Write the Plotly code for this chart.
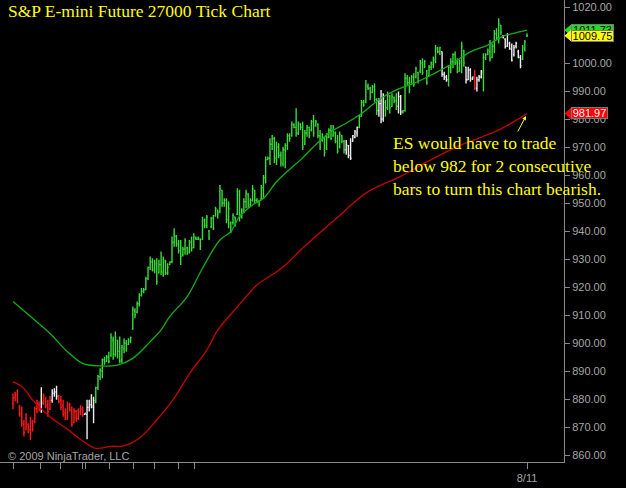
import plotly.graph_objects as go

# ---------------- data ----------------
opens = [
    878.5, 880.5, 881.5, 877.0, 875.0, 871.0, 869.0, 871.0, 869.0, 871.5,
    872.0, 876.5, 878.0, 877.0, 879.0, 880.0, 878.0, 876.5, 879.5, 882.0,
    882.5, 881.0, 879.5, 877.5, 875.0, 873.0, 878.0, 876.0, 871.5, 875.5,
    873.0, 875.5, 876.5, 874.5, 874.5, 877.0, 878.0, 877.0, 879.0, 884.0,
    888.0, 890.0, 894.0, 893.5, 895.0, 895.5, 901.0, 896.0, 901.0, 897.0,
    894.0, 898.0, 900.0, 899.5, 900.5,
    905, 911.5, 911, 914, 917, 918.5, 919, 923, 927, 929,
    926, 928, 925, 928, 925, 929, 925, 928, 929, 936,
    938, 935.5, 933, 931.5, 933.5, 934, 932.5, 936, 934, 937.5,
    937, 937, 937, 943.5, 942, 940, 941.5, 944.5, 945.5, 947.5,
    947, 954.5, 950, 951, 944, 943, 943, 945, 946, 953,
    945, 947, 950.5, 953, 949.5, 951, 954.5, 951, 950.5, 951.5,
    955.5, 959, 965.5, 966, 971, 973, 966, 970, 967, 964,
    969, 970.5, 974, 974, 978, 977, 975, 978,
    977, 971, 975, 977, 976, 979, 977.5, 978, 974, 972.5,
    973, 969.5, 973.5, 976, 974, 975, 972, 970, 974, 972,
    969, 970.5, 967, 972, 973.5, 975, 977, 981, 986, 986,
    991.5, 991, 989.5, 991.5, 987, 983, 985.5, 980, 986, 984,
    988, 984.5, 987.5, 986.5, 984.5, 988, 982.5, 983, 994.5, 993,
    993, 995, 995, 996.5,
    997, 1000, 998.5, 997, 995.5, 998.5, 999.5, 1001, 1005, 1004,
    1004, 996, 995, 994, 998.5, 1000.5, 1003, 1000, 997, 1000,
    1004.5, 998.5, 994, 997.5, 994.5, 994.5, 991, 994, 995, 996.5,
    1002, 1003, 1004, 1002, 1006, 1010.5, 1009, 1013.5, 1009.5, 1008.5,
    1006, 1007, 1005, 1003, 1006, 1004, 1002, 1001.5, 1005, 1009.5,
]
highs = [
    882.0, 882.6, 883.5, 877.9, 877.3, 872.5, 874.9, 871.3, 873.7, 872.5,
    877.3, 879.7, 879.1, 884.2, 882.0, 880.8, 879.7, 881.1, 883.5, 883.8,
    884.7, 881.4, 881.1, 879.7, 876.7, 879.1, 878.7, 877.3, 876.7, 876.1,
    876.7, 877.9, 877.3, 874.9, 879.7, 879.7, 881.7, 880.8, 884.4, 888.6,
    891.0, 894.5, 895.1, 895.7, 896.9, 903.5, 902.3, 904.1, 901.1, 902.3,
    899.3, 901.7, 901.1, 901.7, 902.3,
    913.0, 912.4, 914.8, 917.8, 919.6, 919.6, 923.7, 927.3, 930.9, 930.3,
    929.7, 930.3, 929.7, 932.7, 930.9, 929.7, 928.5, 929.1, 938.0, 941.0,
    938.6, 936.8, 936.8, 934.4, 937.4, 934.4, 936.8, 938.0, 939.2, 938.0,
    938.0, 937.4, 945.1, 944.5, 945.7, 940.4, 945.1, 945.7, 948.7, 947.5,
    956.4, 954.7, 951.7, 951.7, 950.5, 943.4, 946.3, 945.1, 955.3, 954.7,
    948.1, 951.7, 954.7, 953.5, 951.7, 956.4, 954.7, 951.7, 951.1, 956.4,
    960.0, 966.6, 966.6, 973.1, 974.3, 973.7, 971.9, 971.3, 968.4, 970.1,
    971.3, 974.9, 974.9, 979.1, 978.5, 983.8, 979.1, 978.5,
    979.0, 976.1, 977.9, 977.3, 979.6, 981.4, 979.6, 978.5, 976.1, 974.9,
    973.7, 974.9, 976.7, 977.9, 977.9, 975.5, 974.3, 975.5, 974.3, 972.5,
    972.5, 970.7, 973.1, 974.3, 976.1, 977.3, 981.4, 986.8, 986.8, 993.9,
    992.7, 991.5, 992.1, 992.7, 987.4, 987.4, 990.4, 989.2, 986.8, 989.8,
    988.6, 989.2, 988.0, 989.2, 989.8, 988.6, 983.2, 996.3, 995.7, 995.1,
    995.7, 996.3, 998.7, 996.9,
    1001.1, 1001.7, 1001.1, 997.5, 999.3, 1000.5, 1002.3, 1006.4, 1005.8, 1005.8,
    1004.1, 996.9, 995.7, 999.3, 1001.7, 1003.5, 1004.1, 1001.7, 1001.1, 1007.6,
    1004.7, 998.7, 998.7, 998.1, 995.1, 997.5, 995.1, 995.7, 997.5, 1003.5,
    1003.5, 1005.2, 1008.2, 1007.0, 1011.8, 1012.4, 1016.0, 1013.6, 1010.0, 1008.8,
    1010.6, 1007.6, 1007.0, 1006.4, 1007.6, 1004.7, 1002.9, 1006.4, 1008.2, 1010.6,
]
lows = [
    876.3, 879.1, 878.5, 873.7, 870.1, 866.6, 868.9, 867.8, 865.4, 868.4,
    871.3, 874.9, 875.5, 875.1, 877.9, 876.7, 873.7, 876.1, 878.7, 880.8,
    879.7, 878.5, 876.1, 873.7, 872.5, 872.5, 875.5, 870.1, 871.3, 871.9,
    872.5, 874.3, 873.7, 874.3, 865.6, 875.5, 876.7, 871.3, 878.5, 883.2,
    886.8, 887.4, 892.2, 893.3, 892.8, 895.1, 894.0, 895.1, 894.5, 892.8,
    892.8, 896.3, 896.9, 899.3, 899.9,
    904.7, 908.8, 910.6, 913.0, 916.6, 917.8, 919.0, 922.5, 926.1, 925.5,
    924.9, 920.8, 924.9, 924.3, 923.7, 924.3, 924.3, 927.9, 928.5, 934.4,
    934.4, 932.0, 927.9, 930.9, 931.5, 931.5, 932.0, 932.7, 933.8, 936.8,
    936.8, 933.2, 936.8, 941.0, 941.0, 936.8, 941.0, 940.4, 945.1, 944.5,
    946.3, 948.7, 948.7, 942.8, 941.0, 939.2, 942.2, 941.6, 945.7, 943.4,
    944.5, 946.3, 948.1, 948.1, 948.7, 950.5, 949.9, 949.9, 948.7, 951.1,
    951.7, 957.0, 965.4, 963.6, 968.9, 964.2, 963.6, 966.0, 963.0, 963.0,
    962.4, 968.9, 971.9, 973.7, 976.7, 973.7, 974.3, 976.1,
    968.9, 970.7, 973.7, 973.1, 975.5, 973.7, 977.3, 973.1, 968.9, 971.9,
    966.6, 968.9, 973.1, 972.5, 973.7, 971.3, 967.7, 969.5, 971.3, 967.7,
    967.2, 966.0, 965.4, 971.9, 973.1, 973.7, 976.7, 980.8, 984.4, 985.6,
    990.4, 986.8, 989.2, 986.2, 981.4, 980.8, 978.5, 979.0, 980.8, 983.2,
    982.0, 984.4, 985.6, 983.2, 982.0, 981.4, 982.0, 982.6, 992.1, 989.2,
    992.7, 991.5, 994.5, 992.7,
    996.3, 995.7, 998.1, 992.2, 995.1, 997.5, 998.1, 999.9, 1003.5, 1002.9,
    995.1, 993.9, 993.3, 991.6, 996.3, 998.1, 999.3, 996.3, 996.9, 996.3,
    998.7, 992.7, 993.9, 993.3, 993.9, 990.4, 989.8, 993.3, 994.5, 989.8,
    1001.1, 1002.9, 1000.5, 1001.7, 1003.5, 1008.2, 1007.0, 1010.0, 1008.8, 1005.2,
    1005.8, 1004.7, 1000.5, 1002.3, 1005.2, 1001.7, 998.1, 1001.1, 1004.1, 1009.4,
]
closes = [
    880.5, 881.5, 879.0, 874.5, 871.5, 868.0, 873.0, 869.0, 872.0, 869.5,
    876.5, 878.5, 877.0, 878.5, 881.0, 877.5, 875.5, 879.5, 882.0, 882.5,
    881.0, 879.0, 877.0, 874.5, 873.5, 878.0, 876.0, 871.0, 875.5, 873.0,
    875.5, 876.5, 874.5, 874.9, 877.0, 878.0, 877.5, 879.5, 884.0, 888.0,
    890.5, 894.0, 893.0, 895.0, 893.5, 902.0, 896.0, 902.0, 897.0, 893.5,
    898.5, 900.0, 898.0, 901.0, 902.0,
    912, 910, 914, 917, 918.5, 919, 923, 927, 929, 926.5,
    928.5, 922, 928, 925.5, 929.5, 925, 927, 929, 936, 938.5,
    935, 933, 931, 933.5, 936.5, 932, 936, 934, 938, 937,
    937.5, 934.5, 944, 942, 945, 937.5, 944.5, 941, 948, 946.5,
    955, 950, 951, 944, 948, 940, 945.5, 943, 954, 945,
    947.5, 950.5, 953.5, 949, 951, 955, 951, 950.5, 949.5, 955.5,
    959, 965.5, 966, 971, 973, 966, 970, 967, 964.5, 969,
    970.5, 974, 973, 978, 977, 975, 978.5, 977,
    970, 975, 977, 974, 979, 975, 979, 974, 970, 974.5,
    968, 973.5, 976, 973, 977, 972, 968.5, 974.5, 972, 969,
    971, 967, 966, 974, 975.5, 977, 981, 986, 985, 992,
    991, 988, 991.5, 987, 983, 985.5, 980, 987.5, 984, 988.5,
    984, 988, 986.5, 984.5, 988, 982.5, 983, 994.5, 993, 990.5,
    995, 992.5, 998, 993.5,
    1000, 996.5, 1000.5, 993, 998.5, 1000, 1001.5, 1005.5, 1004, 1005.5,
    996, 995, 994, 998.5, 1000.5, 1003, 1000, 997, 1000.5, 1006,
    1000, 994, 997.5, 994, 995, 991, 994, 995, 997, 1002,
    1003, 1004.5, 1001.5, 1006, 1010.5, 1009, 1014, 1011, 1009, 1006,
    1010, 1005, 1001, 1005.5, 1007, 1002, 999, 1005.5, 1007.5, 1009.75,
]
# bar colour state, as runs of (state, number of bars)
color_runs = [("r", 13), ("w", 1), ("r", 4), ("w", 3), ("r", 12), ("w", 5),
              ("g", 115), ("w", 6), ("g", 9), ("w", 3), ("g", 6), ("w", 2),
              ("g", 18), ("w", 3), ("g", 8), ("w", 4), ("r", 1), ("w", 3),
              ("g", 9), ("w", 9), ("g", 3)]

# moving averages (bar index, value)
green_ma_idx = [0, 9, 17, 25, 32, 40, 48, 55, 63, 68, 72, 80, 87, 95, 100, 104, 110,
                115, 121, 127, 132, 138, 146, 153, 159, 169, 176, 184, 192, 195,
                202, 210, 218, 225, 230, 236]
green_ma_val = [914.8, 908.8, 903.4, 896.9, 892.7, 891.8, 892.1, 894.5, 900.5, 904.7,
                909.5, 916.6, 926.7, 936.8, 939.8, 945.2, 949.3, 951.7, 957.6, 962.0,
                965.4, 970.1, 975.5, 978.5, 981.4, 987.4, 990.4, 992.7, 995.7, 996.9,
                999.9, 1004.0, 1006.4, 1009.6, 1010.6, 1011.73]
red_ma_idx = [0, 5, 9, 17, 25, 32, 38, 45, 51, 58, 66, 74, 81, 89, 94, 103, 112, 120,
              126, 132, 141, 150, 157, 164, 178, 192, 205, 215, 224, 231, 236]
red_ma_val = [886.2, 883.8, 879.6, 873.7, 869.2, 865.0, 862.4, 863.1, 863.3, 866.0,
              872.5, 880.3, 889.0, 897.5, 904.6, 912.9, 920.7, 924.9, 928.5, 933.2,
              939.5, 945.5, 950.5, 954.5, 959.5, 965.5, 970.5, 973.5, 976.5, 979.5,
              981.97]

x_tick_idx = [0.1, 12.4, 22, 32, 33.5, 44.5, 55.2, 64.9, 76.2, 83.2, 236]
x_tick_text = ["", "", "", "", "", "", "", "", "", "", "8/11"]
y_tick_vals = [860, 870, 880, 890, 900, 910, 920, 930, 940, 950, 960, 970, 980,
               990, 1000, 1010, 1020]

title_text = "S&P E-mini Future 27000 Tick Chart"
note_lines = ["ES would have to trade", "below 982 for 2 consecutive",
              "bars to turn this chart bearish."]
copyright_text = "© 2009 NinjaTrader, LLC"

# ---------------- styling ----------------
BAR_COLORS = {"g": "#3ada3a", "r": "#ff1a1a", "w": "#eeeeee"}
AXIS_GRAY = "#8a8a8a"
TEXT_GRAY = "#a6a6a6"
YELLOW = "#ffff00"
PLOT_W, PLOT_H = 564, 462
Y_RANGE = [857.5, 1022.5]
PX_PER_BAR = 514 / 236.0
X_RANGE = [-13 / PX_PER_BAR, (PLOT_W - 13) / PX_PER_BAR]

bar_states = []
for state, n in color_runs:
    bar_states.extend([state] * n)
while len(bar_states) < len(opens):
    bar_states.append("g")

fig = go.Figure()
for state, col in BAR_COLORS.items():
    sel = [i for i in range(len(opens)) if bar_states[i] == state]
    fig.add_trace(go.Ohlc(
        x=sel,
        open=[opens[i] for i in sel], high=[highs[i] for i in sel],
        low=[lows[i] for i in sel], close=[closes[i] for i in sel],
        increasing=dict(line=dict(color=col, width=1.4)),
        decreasing=dict(line=dict(color=col, width=1.4)),
        tickwidth=0.45, showlegend=False, hoverinfo="skip"))

fig.add_trace(go.Scatter(x=red_ma_idx, y=red_ma_val, mode="lines",
                         line=dict(color="#c80000", width=1.3, shape="spline"),
                         showlegend=False, hoverinfo="skip"))
fig.add_trace(go.Scatter(x=green_ma_idx, y=green_ma_val, mode="lines",
                         line=dict(color="#12b012", width=1.3, shape="spline"),
                         showlegend=False, hoverinfo="skip"))

annotations = []
shapes = []

def px_x(p):
    return p / PLOT_W

def px_y(p):
    return 1 - p / PLOT_H

# title
annotations.append(dict(text=title_text, xref="paper", yref="paper", x=px_x(6), y=px_y(11),
                        xanchor="left", yanchor="middle", showarrow=False,
                        font=dict(family="Liberation Serif", size=17.5, color=YELLOW)))
# note
annotations.append(dict(text="<br>".join(note_lines), xref="paper", yref="paper",
                        x=px_x(391), y=px_y(166), xanchor="left", yanchor="middle",
                        align="left", showarrow=False,
                        font=dict(family="Liberation Serif", size=17.5, color=YELLOW)))
# small arrow
annotations.append(dict(text="", xref="paper", yref="paper", x=px_x(526), y=px_y(116),
                        ax=-9, ay=17, showarrow=True, arrowhead=2, arrowsize=0.8,
                        arrowwidth=1, arrowcolor=YELLOW))
# copyright
annotations.append(dict(text=copyright_text, xref="paper", yref="paper", x=px_x(6),
                        y=px_y(456), xanchor="left", yanchor="middle", showarrow=False,
                        font=dict(family="Liberation Sans", size=11, color=TEXT_GRAY)))

# value boxes on the price axis
def value_box(value, bg, fg, right_px):
    half = 6 / 2.8
    shapes.append(dict(type="path", xref="paper", yref="y", layer="above",
                       path=f"M {px_x(565)},{value} L {px_x(572)},{value + half} "
                            f"L {px_x(572)},{value - half} Z",
                       fillcolor=bg, line=dict(color=bg, width=1)))
    annotations.append(dict(text=f"{value:.2f}", xref="paper", yref="y",
                            x=px_x(571), y=value, xanchor="left", yanchor="middle",
                            showarrow=False, width=right_px - 573, height=10,
                            bgcolor=bg, bordercolor="#7a7a7a", borderwidth=1, borderpad=0,
                            font=dict(family="Liberation Sans", size=11, color=fg)))

value_box(green_ma_val[-1], "#22dd22", "#000000", 614)
value_box(closes[-1], "#ffff00", "#000000", 614)
value_box(red_ma_val[-1], "#ff0000", "#ffffff", 608)

fig.update_layout(
    width=626, height=488,
    paper_bgcolor="#000000", plot_bgcolor="#000000",
    margin=dict(l=0, r=62, t=0, b=26),
    showlegend=False,
    annotations=annotations, shapes=shapes,
    xaxis=dict(range=X_RANGE, showgrid=False, zeroline=False, showline=True,
               linecolor=AXIS_GRAY, linewidth=1, ticks="outside", ticklen=6,
               tickcolor=AXIS_GRAY, tickvals=x_tick_idx, ticktext=x_tick_text,
               tickfont=dict(family="Liberation Sans", size=11, color=TEXT_GRAY),
               rangeslider=dict(visible=False), fixedrange=True),
    yaxis=dict(range=Y_RANGE, side="right", showgrid=False, zeroline=False,
               showline=True, linecolor=AXIS_GRAY, linewidth=1, ticks="outside",
               ticklen=5, tickcolor=AXIS_GRAY, tickvals=y_tick_vals,
               ticktext=[f"{v:.2f}" for v in y_tick_vals],
               tickfont=dict(family="Liberation Sans", size=11, color=TEXT_GRAY),
               fixedrange=True),
)

fig.write_html("out.html",
               config={"displayModeBar": False},
               post_script="document.body.style.margin='0';"
                           "document.body.style.background='#000';")
